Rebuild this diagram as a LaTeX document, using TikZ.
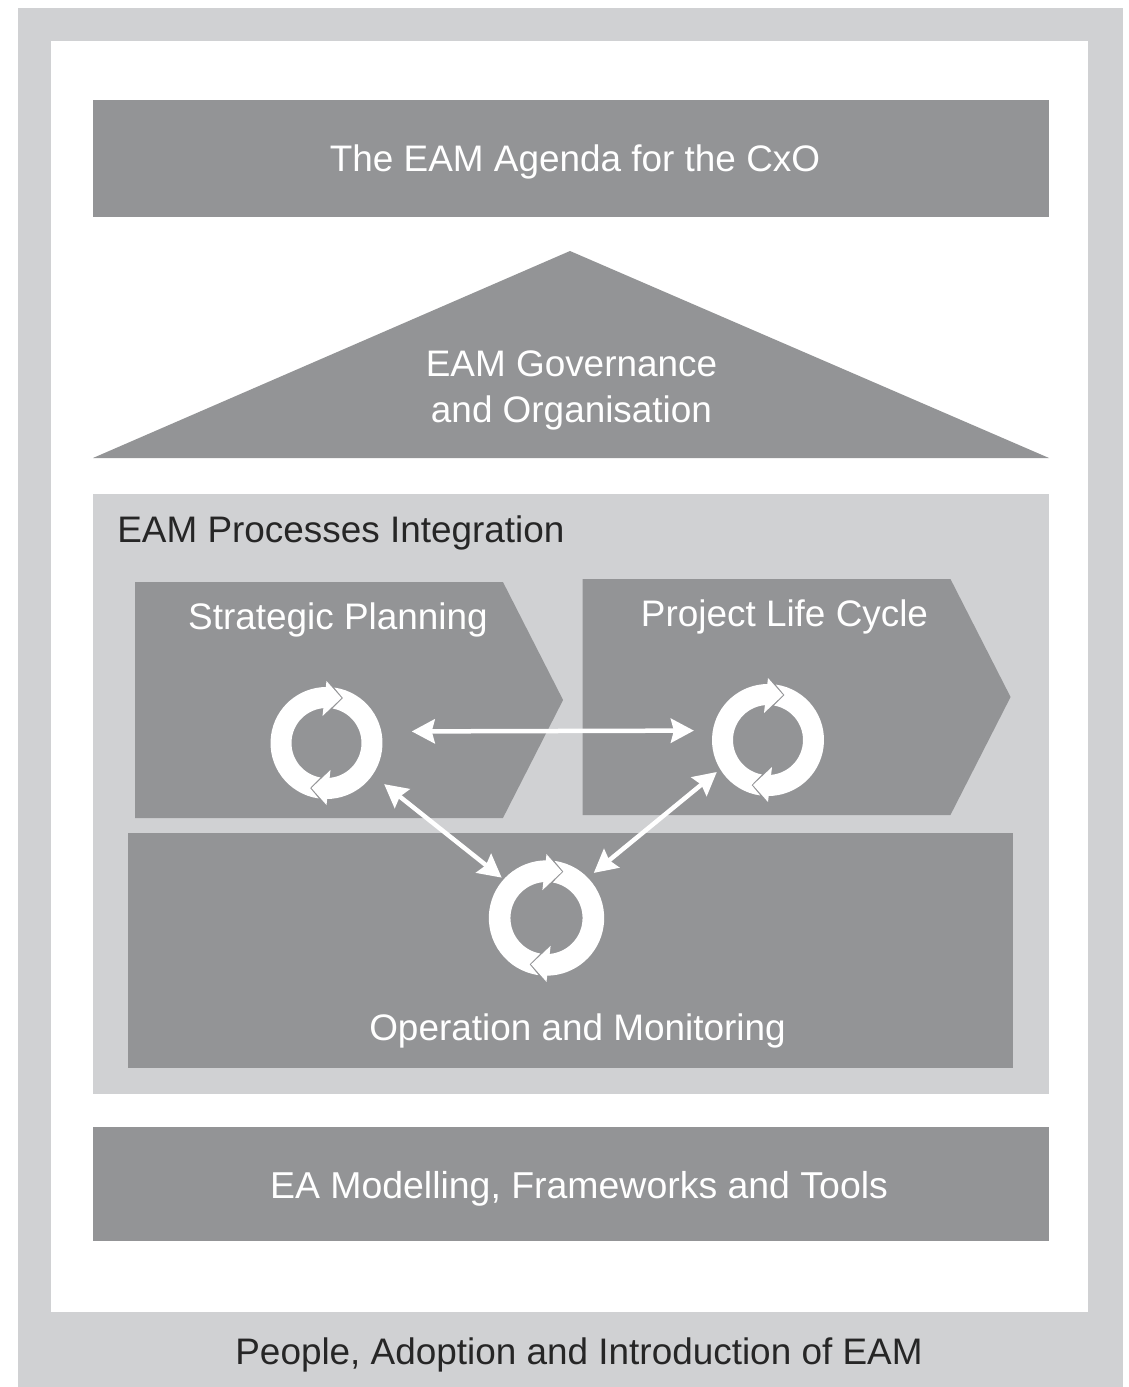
\documentclass[tikz,border=0pt]{standalone}
\usepackage{fontspec}
\setmainfont{Liberation Sans}
\usetikzlibrary{positioning,arrows.meta,shapes.symbols}

\definecolor{framegray}{HTML}{D0D1D3}
\definecolor{bargray}{HTML}{939496}
\definecolor{inkgray}{HTML}{262626}

\tikzset{
	bar/.style={fill=bargray,inner sep=0pt},
	panel/.style={fill=framegray,inner sep=0pt},
	chevron/.style={signal,signal to=east,signal pointer angle=126,fill=bargray,inner sep=0pt,minimum width=8.56cm,minimum height=4.72cm},
	title/.style={text=white,font=\fontsize{21}{26.4}\selectfont,inner sep=0pt,align=center},
	dark/.style={text=inkgray,font=\fontsize{21}{26}\selectfont,inner sep=0pt},
	cyclenode/.style={circle,minimum size=2.4cm,inner sep=0pt},
	link/.style={{Stealth[length=.46cm,width=.48cm,inset=.06cm]}-{Stealth[length=.46cm,width=.48cm,inset=.06cm]},color=white,line width=.09cm},
	pics/cycle/.style={code={
		\foreach \r in {0,180} {
			\fill[white,rotate=\r] (262:1.12) arc[start angle=262,end angle=90,radius=1.12]
				-- (90:.70) arc[start angle=90,end angle=260,radius=.70] -- (-.33,-.90) -- cycle;
			\fill[white,rotate=\r] (0,1.24) -- (.30,.90) -- (-.08,.54) -- cycle;
		}
	}}
}

\begin{document}
\begin{tikzpicture}[on grid]
		\useasboundingbox (0,0) rectangle (22.58,-27.74);
		% frame
		\node[panel,minimum width=22.1cm,minimum height=27.58cm] (frame) at (11.41,-13.95) {};
		\node[fill=white,inner sep=0pt,minimum width=20.74cm,minimum height=25.42cm] (canvas) at (11.39,-13.53) {};
		\node[dark] (people) at (11.58,-27.1) {People, Adoption and Introduction of EAM};

		% top of the house
		\node[bar,minimum width=19.12cm,minimum height=2.34cm] (agenda) at (11.42,-3.17) {};
		\node[title] (agendatext) at (11.5,-3.24) {The EAM Agenda for the CxO};
		\coordinate (roofl) at (1.86,-9.16);
		\coordinate (roofr) at (20.98,-9.16);
		\coordinate (rooft) at (11.40,-5.02);
		\fill[bargray] (roofl) -- (rooft) -- (roofr) -- cycle;
		\node[title] (governance) at (11.43,-7.81) {EAM Governance\\and Organisation};

		% processes
		\node[panel,minimum width=19.12cm,minimum height=12cm] (processes) [below=12.71cm of agenda] {};
		\node[dark,anchor=west] (integration) at (2.34,-10.66) {EAM Processes Integration};
		\node[chevron] (spshape) at (6.38,-14.0) {};
		\node[chevron] (plshape) at (15.33,-13.94) {};
		\node[bar,minimum width=17.7cm,minimum height=4.7cm] (omshape) at (11.41,-19.01) {};
		\node[title] (sptext) at (6.76,-12.4) {Strategic Planning};
		\node[title] (pltext) at (15.69,-12.33) {Project Life Cycle};
		\node[title] (omtext) at (11.55,-20.62) {Operation and Monitoring};

		% cycles
		\node[cyclenode] (sp) at (6.53,-14.86) {};
		\node[cyclenode] (pl) at (15.36,-14.80) {};
		\node[cyclenode] (om) at (10.93,-18.36) {};
		\pic at (sp) {cycle};
		\pic at (pl) {cycle};
		\pic[scale=1.03] at (om) {cycle};
		\path[link]
		(sp.11.5) edge [shorten <=.52cm,shorten >=.29cm] (pl.171.4)
		(sp.-35) edge [shorten <=.21cm] (om.138)
		(om.44) edge [shorten <=.1cm] (pl.-148)
		;

		% base
		\node[bar,minimum width=19.12cm,minimum height=2.28cm] (tools) [below=7.8cm of processes] {};
		\node[title,font=\fontsize{21.3}{26}\selectfont] (toolstext) at (11.58,-23.78) {EA Modelling, Frameworks and Tools};
\end{tikzpicture}
\end{document}
